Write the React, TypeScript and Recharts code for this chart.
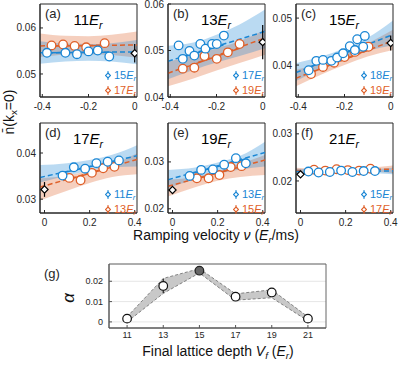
import React from "react";
import {
  Area,
  CartesianGrid,
  ComposedChart,
  ErrorBar,
  Line,
  ReferenceArea,
  Scatter,
  XAxis,
  YAxis,
} from "recharts";

const BLUE = "#1a86d4";
const ORANGE = "#df5f28";
const INK = "#262626";
const FONT = "'Liberation Sans', Arial, Helvetica, sans-serif";

// x grids shared by the fit lines and confidence bands
const topFitX = [-0.41, 0.01];
const topBandX = [-0.41, -0.3, -0.2, -0.1, 0.01];
const botFitX = [-0.02, 0.41];
const botBandX = [-0.02, 0.1, 0.2, 0.3, 0.41];
const topXTicks = [-0.4, -0.2, 0];
const botXTicks = [0, 0.2, 0.4];

// (a) 11 Er
const aBlueX = [-0.38, -0.3, -0.25, -0.2, -0.16, -0.11];
const aBlueY = [0.0546, 0.0546, 0.0543, 0.0549, 0.0551, 0.0538];
const aOrangeX = [-0.36, -0.31, -0.26, -0.21, -0.13];
const aOrangeY = [0.0562, 0.0564, 0.0561, 0.0558, 0.0567];
const aBlueFit = [0.0546, 0.0548];
const aOrangeFit = [0.0561, 0.0563];
const aBlueSegX = [-0.38, -0.11];
const aBlueSeg = [0.0546, 0.0547];
const aOrangeSegX = [-0.36, -0.13];
const aOrangeSeg = [0.0561, 0.0562];
const aBlueLo = [0.0522, 0.0527, 0.0529, 0.0527, 0.0521];
const aBlueHi = [0.0571, 0.0566, 0.0565, 0.0567, 0.0574];
const aOrangeLo = [0.0537, 0.0542, 0.0543, 0.0541, 0.0535];
const aOrangeHi = [0.0588, 0.0583, 0.0582, 0.0585, 0.0592];
const aRef = [0.0545, 0.002];

// (b) 13 Er
const bBlueX = [-0.364, -0.346, -0.317, -0.296, -0.27, -0.248, -0.219, -0.199, -0.168];
const bBlueY = [0.0511, 0.0482, 0.0499, 0.0489, 0.0514, 0.0504, 0.0514, 0.0514, 0.0532];
const bOrangeX = [-0.346, -0.296, -0.252, -0.199, -0.151, -0.1];
const bOrangeY = [0.0461, 0.0463, 0.0488, 0.0482, 0.0496, 0.0514];
const bBlueFit = [0.0477, 0.0541];
const bOrangeFit = [0.0451, 0.0527];
const bBlueSegX = [-0.36, -0.17];
const bBlueSeg = [0.0484, 0.0512];
const bOrangeSegX = [-0.35, -0.1];
const bOrangeSeg = [0.0461, 0.0505];
const bBlueLo = [0.0438, 0.0458, 0.0474, 0.0488, 0.0505];
const bBlueHi = [0.051, 0.0517, 0.0534, 0.0556, 0.0588];
const bOrangeLo = [0.0423, 0.044, 0.0457, 0.0473, 0.0491];
const bOrangeHi = [0.0476, 0.049, 0.0505, 0.052, 0.0545];
const bRef = [0.0518, 0.0037];

// (c) 15 Er
const cBlueX = [-0.355, -0.322, -0.293, -0.257, -0.232, -0.206, -0.177, -0.155, -0.145, -0.119, -0.112];
const cBlueY = [0.0389, 0.0409, 0.0411, 0.0409, 0.0416, 0.0425, 0.044, 0.0432, 0.0455, 0.0439, 0.0462];
const cOrangeX = [-0.345, -0.293, -0.245, -0.2, -0.155, -0.096];
const cOrangeY = [0.0381, 0.0396, 0.0405, 0.0417, 0.0428, 0.0439];
const cBlueFit = [0.0384, 0.0465];
const cOrangeFit = [0.0372, 0.0452];
const cBlueSegX = [-0.36, -0.11];
const cBlueSeg = [0.0394, 0.0443];
const cOrangeSegX = [-0.35, -0.1];
const cOrangeSeg = [0.0383, 0.0432];
const cBlueLo = [0.0366, 0.0392, 0.0412, 0.043, 0.0442];
const cBlueHi = [0.0404, 0.0418, 0.0436, 0.0458, 0.0495];
const cOrangeLo = [0.0355, 0.038, 0.04, 0.0418, 0.0432];
const cOrangeHi = [0.039, 0.0405, 0.0424, 0.0446, 0.0475];
const cRef = [0.0447, 0.0016];

// (d) 17 Er
const dBlueX = [0.08, 0.13, 0.18, 0.23, 0.28, 0.33];
const dBlueY = [0.0351, 0.0369, 0.0366, 0.0378, 0.0381, 0.0384];
const dOrangeX = [0.11, 0.16, 0.21, 0.26, 0.31];
const dOrangeY = [0.0346, 0.0341, 0.0357, 0.0367, 0.037];
const dBlueFit = [0.0347, 0.0394];
const dOrangeFit = [0.0326, 0.0386];
const dBlueSegX = [0.08, 0.33];
const dBlueSeg = [0.0357, 0.0384];
const dOrangeSegX = [0.11, 0.31];
const dOrangeSeg = [0.0343, 0.0371];
const dBlueLo = [0.0336, 0.0351, 0.0362, 0.0369, 0.0371];
const dBlueHi = [0.0374, 0.0378, 0.0385, 0.0396, 0.0417];
const dOrangeLo = [0.0297, 0.0318, 0.0335, 0.0348, 0.0354];
const dOrangeHi = [0.0345, 0.0351, 0.0362, 0.0376, 0.0399];
const dRef = [0.0321, 0.0016];

// (e) 19 Er
const eBlueX = [0.076, 0.127, 0.179, 0.229, 0.281, 0.325];
const eBlueY = [0.027, 0.0283, 0.0284, 0.0294, 0.0308, 0.0297];
const eOrangeX = [0.108, 0.16, 0.208, 0.258, 0.306];
const eOrangeY = [0.0265, 0.0265, 0.0272, 0.0289, 0.0291];
const eBlueFit = [0.0262, 0.032];
const eOrangeFit = [0.0248, 0.0304];
const eBlueSegX = [0.076, 0.325];
const eBlueSeg = [0.0274, 0.0306];
const eOrangeSegX = [0.108, 0.306];
const eOrangeSeg = [0.0264, 0.029];
const eBlueLo = [0.0244, 0.0263, 0.0275, 0.0284, 0.029];
const eBlueHi = [0.0283, 0.0288, 0.0299, 0.0313, 0.0343];
const eOrangeLo = [0.0226, 0.0246, 0.026, 0.0268, 0.0272];
const eOrangeHi = [0.0262, 0.0268, 0.028, 0.0296, 0.0315];
const eRef = [0.024, 0.0007];

// (f) 21 Er
const fBlueX = [0.035, 0.08, 0.13, 0.18, 0.23, 0.28, 0.33];
const fBlueY = [0.022, 0.0218, 0.0219, 0.0222, 0.0219, 0.0221, 0.0221];
const fOrangeX = [0.06, 0.11, 0.16, 0.21, 0.26, 0.31];
const fOrangeY = [0.0224, 0.0222, 0.0225, 0.0223, 0.0222, 0.0226];
const fBlueFit = [0.022, 0.0221];
const fOrangeFit = [0.0222, 0.0225];
const fBlueSegX = [0.035, 0.33];
const fBlueSeg = [0.022, 0.0221];
const fOrangeSegX = [0.06, 0.31];
const fOrangeSeg = [0.0223, 0.0224];
const fBlueLo = [0.0214, 0.0217, 0.0218, 0.0217, 0.0214];
const fBlueHi = [0.0226, 0.0224, 0.0223, 0.0224, 0.0228];
const fOrangeLo = [0.0216, 0.0219, 0.022, 0.022, 0.0217];
const fOrangeHi = [0.0228, 0.0226, 0.0226, 0.0228, 0.0233];
const fRef = [0.0214, 0.0004];

// (g) slope alpha vs final lattice depth
const gDepth = [11, 13, 15, 17, 19, 21];
const gAlpha = [0.0016, 0.0177, 0.0252, 0.0124, 0.0145, 0.0016];
const gErr = [0.0006, 0.0035, 0.0008, 0.0008, 0.0008, 0.0006];
const gUpper = [0.0025, 0.0214, 0.0262, 0.0138, 0.0158, 0.0025];
const gLower = [0.0, 0.014, 0.0241, 0.0107, 0.0119, 0.0005];
const gTicksX = [11, 13, 15, 17, 19, 21];
const gTicksY = [0, 0.01, 0.02];

type Spec = {
  tag: string;
  depth: string;
  legend: [string, string];
  left: number;
  top: number;
  h: number;
  xDomain: [number, number];
  xTicks: number[];
  yDomain: [number, number];
  yTicks: number[];
  fitX: number[];
  bandX: number[];
  blueX: number[]; blueY: number[];
  orangeX: number[]; orangeY: number[];
  blueFit: number[]; orangeFit: number[];
  blueSegX: number[]; blueSeg: number[];
  orangeSegX: number[]; orangeSeg: number[];
  blueLo: number[]; blueHi: number[];
  orangeLo: number[]; orangeHi: number[];
  ref: number[];
};

const panels: Spec[] = [
  { tag: "(a)", depth: "11", legend: ["15", "17"], left: 40, top: 4, h: 93, xDomain: [-0.41, 0.01], xTicks: topXTicks, yDomain: [0.045, 0.0652], yTicks: [0.05, 0.06], fitX: topFitX, bandX: topBandX,
    blueX: aBlueX, blueY: aBlueY, orangeX: aOrangeX, orangeY: aOrangeY, blueFit: aBlueFit, orangeFit: aOrangeFit, blueSegX: aBlueSegX, blueSeg: aBlueSeg, orangeSegX: aOrangeSegX, orangeSeg: aOrangeSeg, blueLo: aBlueLo, blueHi: aBlueHi, orangeLo: aOrangeLo, orangeHi: aOrangeHi, ref: aRef },
  { tag: "(b)", depth: "13", legend: ["17", "19"], left: 168, top: 4, h: 93, xDomain: [-0.41, 0.01], xTicks: topXTicks, yDomain: [0.04, 0.06], yTicks: [0.04, 0.05, 0.06], fitX: topFitX, bandX: topBandX,
    blueX: bBlueX, blueY: bBlueY, orangeX: bOrangeX, orangeY: bOrangeY, blueFit: bBlueFit, orangeFit: bOrangeFit, blueSegX: bBlueSegX, blueSeg: bBlueSeg, orangeSegX: bOrangeSegX, orangeSeg: bOrangeSeg, blueLo: bBlueLo, blueHi: bBlueHi, orangeLo: bOrangeLo, orangeHi: bOrangeHi, ref: bRef },
  { tag: "(c)", depth: "15", legend: ["18", "19"], left: 296, top: 4, h: 93, xDomain: [-0.41, 0.01], xTicks: topXTicks, yDomain: [0.0332, 0.053], yTicks: [0.04, 0.05], fitX: topFitX, bandX: topBandX,
    blueX: cBlueX, blueY: cBlueY, orangeX: cOrangeX, orangeY: cOrangeY, blueFit: cBlueFit, orangeFit: cOrangeFit, blueSegX: cBlueSegX, blueSeg: cBlueSeg, orangeSegX: cOrangeSegX, orangeSeg: cOrangeSeg, blueLo: cBlueLo, blueHi: cBlueHi, orangeLo: cOrangeLo, orangeHi: cOrangeHi, ref: cRef },
  { tag: "(d)", depth: "17", legend: ["11", "13"], left: 40, top: 123, h: 90, xDomain: [-0.02, 0.41], xTicks: botXTicks, yDomain: [0.027, 0.0465], yTicks: [0.03, 0.04], fitX: botFitX, bandX: botBandX,
    blueX: dBlueX, blueY: dBlueY, orangeX: dOrangeX, orangeY: dOrangeY, blueFit: dBlueFit, orangeFit: dOrangeFit, blueSegX: dBlueSegX, blueSeg: dBlueSeg, orangeSegX: dOrangeSegX, orangeSeg: dOrangeSeg, blueLo: dBlueLo, blueHi: dBlueHi, orangeLo: dOrangeLo, orangeHi: dOrangeHi, ref: dRef },
  { tag: "(e)", depth: "19", legend: ["13", "15"], left: 168, top: 123, h: 90, xDomain: [-0.02, 0.41], xTicks: botXTicks, yDomain: [0.0191, 0.0383], yTicks: [0.02, 0.03], fitX: botFitX, bandX: botBandX,
    blueX: eBlueX, blueY: eBlueY, orangeX: eOrangeX, orangeY: eOrangeY, blueFit: eBlueFit, orangeFit: eOrangeFit, blueSegX: eBlueSegX, blueSeg: eBlueSeg, orangeSegX: eOrangeSegX, orangeSeg: eOrangeSeg, blueLo: eBlueLo, blueHi: eBlueHi, orangeLo: eOrangeLo, orangeHi: eOrangeHi, ref: eRef },
  { tag: "(f)", depth: "21", legend: ["15", "17"], left: 296, top: 123, h: 90, xDomain: [-0.02, 0.41], xTicks: botXTicks, yDomain: [0.0132, 0.0323], yTicks: [0.02, 0.03], fitX: botFitX, bandX: botBandX,
    blueX: fBlueX, blueY: fBlueY, orangeX: fOrangeX, orangeY: fOrangeY, blueFit: fBlueFit, orangeFit: fOrangeFit, blueSegX: fBlueSegX, blueSeg: fBlueSeg, orangeSegX: fOrangeSegX, orangeSeg: fOrangeSeg, blueLo: fBlueLo, blueHi: fBlueHi, orangeLo: fOrangeLo, orangeHi: fOrangeHi, ref: fRef },
];

const PW = 97;
const YW = 40;
const XH = 20;
const MT = 8; // room above the frame for the top tick label
const MR = 10; // room right of the frame for the last tick label

const pts = (xs: number[], ys: number[]) => xs.map((x, i) => ({ x, y: ys[i] }));
const fmt = (v: number) => (v === 0 ? "0" : String(v));
const tickStyle = { fontSize: 10, fill: INK, fontFamily: FONT };

const ring = (color: string, r = 4.3) => (props: any) => (
  <circle cx={props.cx} cy={props.cy} r={r} fill="#fff" stroke={color} strokeWidth={1.3} />
);
const diamond = (props: any) => {
  const { cx, cy } = props;
  const s = 3.6;
  return (
    <polygon
      points={`${cx},${cy - s} ${cx + s},${cy} ${cx},${cy + s} ${cx - s},${cy}`}
      fill="#fff"
      stroke="#000"
      strokeWidth={1.2}
    />
  );
};

function Er({ sub = "r" }: { sub?: string }) {
  return (
    <>
      <i>E</i>
      <sub style={{ fontSize: "0.7em", verticalAlign: "-0.3em", fontStyle: "italic" }}>{sub}</sub>
    </>
  );
}

function LegendMark({ color }: { color: string }) {
  return (
    <svg width={6} height={9} style={{ marginRight: 3, verticalAlign: "-1px" }}>
      <line x1={3} y1={0} x2={3} y2={9} stroke={color} strokeWidth={1} />
      <polygon points="3,2 5.5,4.5 3,7 0.5,4.5" fill="#fff" stroke={color} strokeWidth={1.1} />
    </svg>
  );
}

function Panel({ p }: { p: Spec }) {
  const band = p.bandX.map((x, i) => ({
    x,
    b: [p.blueLo[i], p.blueHi[i]],
    o: [p.orangeLo[i], p.orangeHi[i]],
  }));
  const refPt = [{ x: 0, y: p.ref[0], e: p.ref[1] }];
  return (
    <>
      <div style={{ position: "absolute", left: p.left - YW, top: p.top - MT }}>
        <ComposedChart width={YW + PW + MR} height={MT + p.h + XH} margin={{ top: MT, right: MR, bottom: 0, left: 0 }}>
          <XAxis type="number" dataKey="x" domain={p.xDomain} ticks={p.xTicks} allowDataOverflow interval={0}
            height={XH} tickSize={-3} tickMargin={9} tick={tickStyle} stroke={INK} tickFormatter={fmt} />
          <YAxis type="number" dataKey="y" domain={p.yDomain} ticks={p.yTicks} allowDataOverflow interval={0}
            width={YW} tickSize={-3} tickMargin={7} tick={tickStyle} stroke={INK} tickFormatter={fmt} />
          <XAxis xAxisId="top" orientation="top" type="number" domain={p.xDomain} ticks={p.xTicks} allowDataOverflow interval={0}
            height={0} tickSize={-3} tick={false} stroke={INK} />
          <YAxis yAxisId="right" orientation="right" type="number" domain={p.yDomain} ticks={p.yTicks} allowDataOverflow interval={0}
            width={0} tickSize={-3} tick={false} stroke={INK} />
          <Area data={band} dataKey="o" type="monotone" fill={ORANGE} fillOpacity={0.3} stroke="none" isAnimationActive={false} />
          <Area data={band} dataKey="b" type="monotone" fill={BLUE} fillOpacity={0.3} stroke="none" isAnimationActive={false} />
          <Line data={pts(p.fitX, p.orangeFit)} dataKey="y" stroke={ORANGE} strokeWidth={1.5} strokeDasharray="5 3" dot={false} isAnimationActive={false} />
          <Line data={pts(p.fitX, p.blueFit)} dataKey="y" stroke={BLUE} strokeWidth={1.5} strokeDasharray="5 3" dot={false} isAnimationActive={false} />
          <Line data={pts(p.orangeSegX, p.orangeSeg)} dataKey="y" stroke={ORANGE} strokeWidth={1.5} dot={false} isAnimationActive={false} />
          <Line data={pts(p.blueSegX, p.blueSeg)} dataKey="y" stroke={BLUE} strokeWidth={1.5} dot={false} isAnimationActive={false} />
          <Scatter data={pts(p.orangeX, p.orangeY)} shape={ring(ORANGE)} isAnimationActive={false} />
          <Scatter data={pts(p.blueX, p.blueY)} shape={ring(BLUE)} isAnimationActive={false} />
          <Scatter data={refPt} shape={diamond} isAnimationActive={false}>
            <ErrorBar dataKey="e" direction="y" width={0} stroke="#000" strokeWidth={1.2} />
          </Scatter>
          <ReferenceArea x1={p.xDomain[0]} x2={p.xDomain[1]} y1={p.yDomain[0]} y2={p.yDomain[1]}
            fill="none" fillOpacity={0} stroke={INK} strokeWidth={1} ifOverflow="visible" />
        </ComposedChart>
      </div>
      <div style={{ position: "absolute", left: p.left + 5, top: p.top + 2, fontSize: 13, color: INK }}>{p.tag}</div>
      <div style={{ position: "absolute", left: p.left + 48, top: p.top + 17, fontSize: 15, color: "#000", transform: "translate(-50%, -50%)", whiteSpace: "nowrap" }}>
        {p.depth}
        <Er />
      </div>
      <div style={{ position: "absolute", left: p.left + 65, top: p.top + 66, fontSize: 11, lineHeight: "11.5px", whiteSpace: "nowrap" }}>
        <div style={{ color: BLUE }}>
          <LegendMark color={BLUE} />
          {p.legend[0]}
          <Er />
        </div>
        <div style={{ color: ORANGE }}>
          <LegendMark color={ORANGE} />
          {p.legend[1]}
          <Er />
        </div>
      </div>
    </>
  );
}

function AlphaPanel() {
  const rows = gDepth.map((x, i) => ({ x, y: gAlpha[i], e: gErr[i], r: [gLower[i], gUpper[i]] }));
  const peak = rows.filter((r) => r.x === 15);
  const rest = rows.filter((r) => r.x !== 15);
  const GY = 40;
  return (
    <div style={{ position: "absolute", left: 109 - GY, top: 264 - MT }}>
      <ComposedChart width={GY + 217 + MR} height={MT + 64 + 18} margin={{ top: MT, right: MR, bottom: 0, left: 0 }}>
        <CartesianGrid vertical={false} stroke="#e6e6e6" />
        <XAxis type="number" dataKey="x" domain={[10, 22]} ticks={gTicksX} allowDataOverflow interval={0}
          height={18} tickSize={-3} tickMargin={7} tick={{ ...tickStyle, fontSize: 9 }} stroke="#555" />
        <YAxis type="number" dataKey="y" domain={[-0.003, 0.0285]} ticks={gTicksY} allowDataOverflow interval={0}
          width={GY} tickSize={-3} tickMargin={9} tick={{ ...tickStyle, fontSize: 9 }} stroke="#555" tickFormatter={fmt} />
        <XAxis xAxisId="top" orientation="top" type="number" domain={[10, 22]} ticks={gTicksX} allowDataOverflow interval={0}
          height={0} tickSize={-3} tick={false} stroke="#555" />
        <YAxis yAxisId="right" orientation="right" type="number" domain={[-0.003, 0.0285]} ticks={gTicksY} allowDataOverflow interval={0}
          width={0} tickSize={-3} tick={false} stroke="#555" />
        <Area data={rows} dataKey="r" type="linear" fill="#c8c8c8" fillOpacity={1} stroke="none" isAnimationActive={false} />
        <Line data={pts(gDepth, gUpper)} dataKey="y" stroke="#777" strokeWidth={0.9} strokeDasharray="3 2" dot={false} isAnimationActive={false} />
        <Line data={pts(gDepth, gLower)} dataKey="y" stroke="#777" strokeWidth={0.9} strokeDasharray="3 2" dot={false} isAnimationActive={false} />
        <Scatter data={rest} shape={(pp: any) => <circle cx={pp.cx} cy={pp.cy} r={4.3} fill="#fff" stroke="#111" strokeWidth={1.2} />} isAnimationActive={false}>
          <ErrorBar dataKey="e" direction="y" width={0} stroke="#222" strokeWidth={1.2} />
        </Scatter>
        <Scatter data={peak} shape={(pp: any) => <circle cx={pp.cx} cy={pp.cy} r={4.3} fill="#666" stroke="#222" strokeWidth={1.2} />} isAnimationActive={false}>
          <ErrorBar dataKey="e" direction="y" width={0} stroke="#222" strokeWidth={1.2} />
        </Scatter>
        <ReferenceArea x1={10} x2={22} y1={-0.003} y2={0.0285} fill="none" fillOpacity={0} stroke="#666" strokeWidth={1} ifOverflow="visible" />
      </ComposedChart>
    </div>
  );
}

export default function App() {
  return (
    <div style={{ position: "absolute", left: 0, top: 0, width: 399, height: 366, background: "#fff", fontFamily: FONT, overflow: "hidden" }}>
      {panels.map((p) => (
        <Panel key={p.tag} p={p} />
      ))}
      <AlphaPanel />
      <div style={{ position: "absolute", left: 10, top: 112, transform: "translate(-50%, -50%) rotate(-90deg)", fontSize: 14, whiteSpace: "nowrap", color: "#111" }}>
        n̄(k<sub style={{ fontSize: "0.7em", verticalAlign: "-0.3em" }}>x</sub>=0)
      </div>
      <div style={{ position: "absolute", left: 216, top: 236, transform: "translate(-50%, -50%)", fontSize: 14, whiteSpace: "nowrap", color: "#111" }}>
        Ramping velocity <i>ν</i> (<Er />/ms)
      </div>
      <div style={{ position: "absolute", left: 44, top: 266, fontSize: 13, color: INK }}>(g)</div>
      <div style={{ position: "absolute", left: 69, top: 298, transform: "translate(-50%, -50%) rotate(-90deg)", fontSize: 17, fontStyle: "italic", color: "#111" }}>
        α
      </div>
      <div style={{ position: "absolute", left: 218, top: 352, transform: "translate(-50%, -50%)", fontSize: 14, whiteSpace: "nowrap", color: "#111" }}>
        Final lattice depth <i>V</i>
        <sub style={{ fontSize: "0.7em", verticalAlign: "-0.3em", fontStyle: "italic" }}>f</sub>
        {"  "}(<Er />)
      </div>
    </div>
  );
}
